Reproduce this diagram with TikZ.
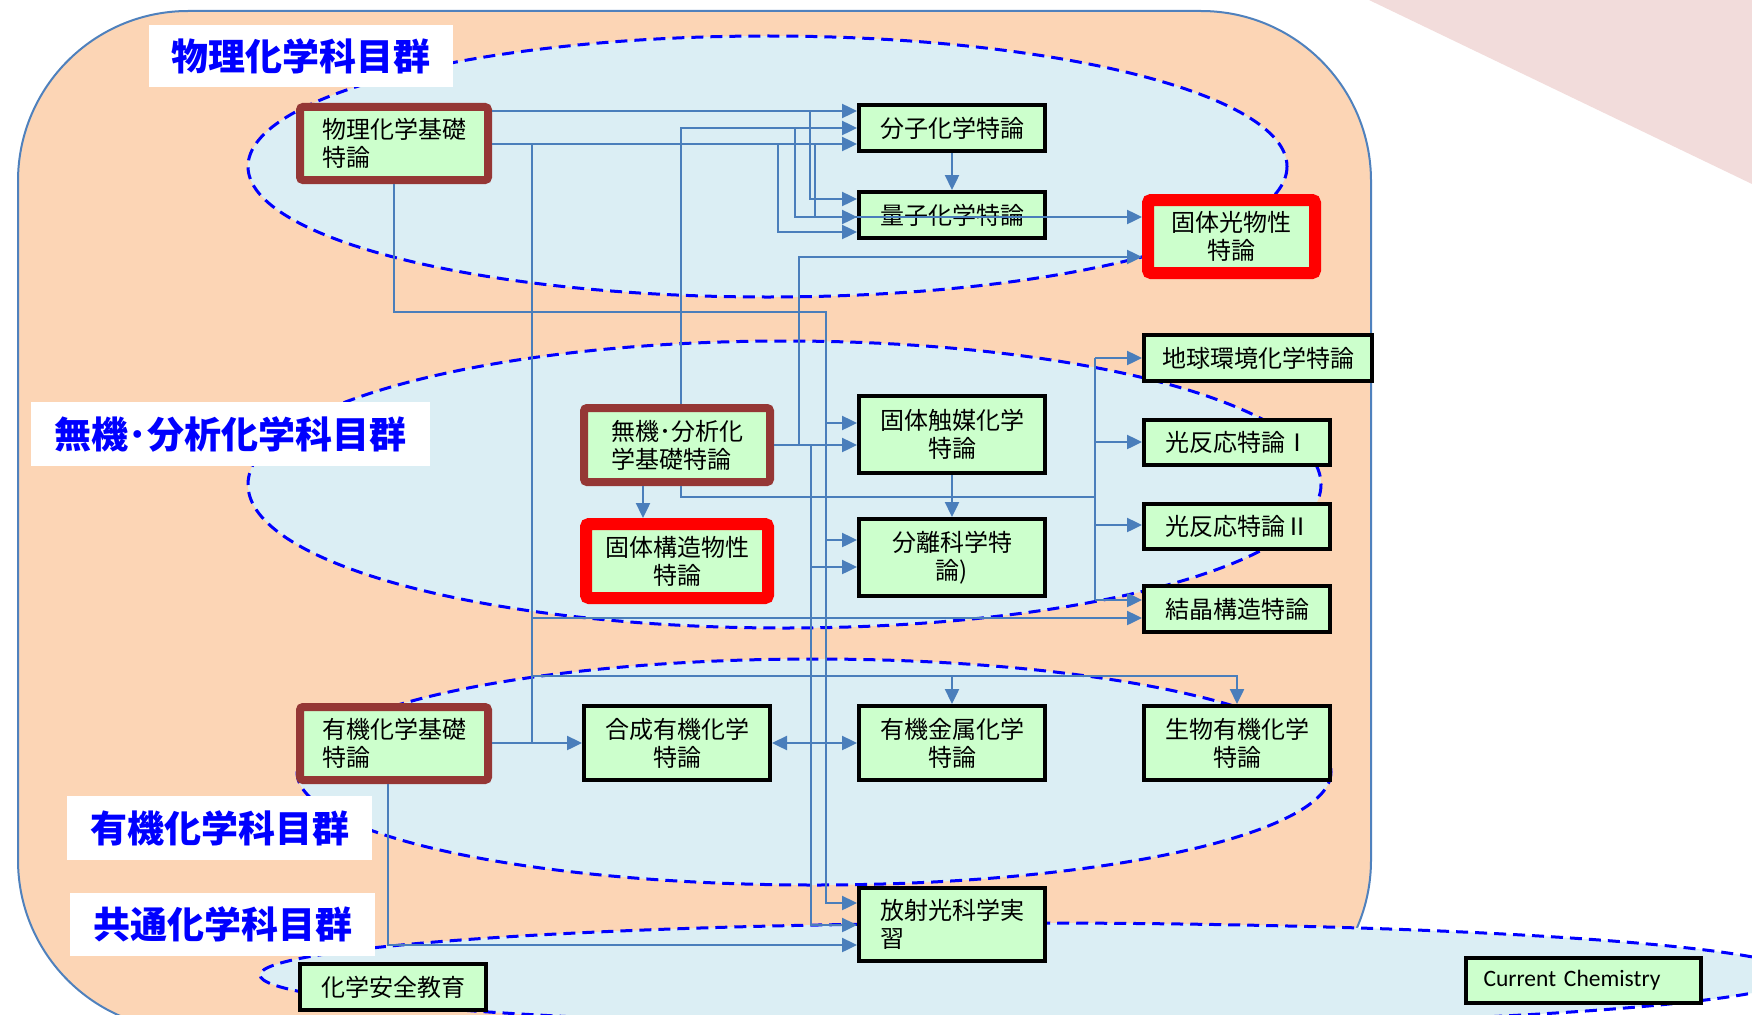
\documentclass[tikz,border=0pt]{standalone}
\usepackage{fontspec}
\newfontfamily\jp{Noto Sans CJK JP}
\newfontfamily\calfont{Carlito}
\usetikzlibrary{arrows.meta}
\definecolor{peach}{HTML}{FCD5B5}
\definecolor{iceblue}{HTML}{DBEEF4}
\definecolor{frameblue}{HTML}{4F81BD}
\definecolor{linkblue}{HTML}{4A7EBB}
\definecolor{boxgreen}{HTML}{CCFFCC}
\definecolor{brownred}{HTML}{953735}
\definecolor{pinkish}{HTML}{F2DCDB}
\definecolor{grpblue}{HTML}{0000FF}
\begin{document}
\begin{tikzpicture}[x=1pt,y=-1pt,
  course/.style={draw=black, line width=4pt, fill=boxgreen, inner sep=0pt,
    font=\jp\fontsize{24}{28}\selectfont, align=center},
  basecourse/.style={course, draw=brownred, line width=8pt, rounded corners=3pt, align=left},
  keycourse/.style={course, draw=red, line width=12pt, rounded corners=3pt},
  grplabel/.style={fill=white, inner sep=0pt, text=grpblue,
    font=\jp\bfseries\fontsize{37}{40}\selectfont},
  group/.style={fill=iceblue, draw=grpblue, line width=3pt, dash pattern=on 12pt off 7pt},
  link/.style={draw=linkblue, line width=2.4pt},
  arr/.style={link, -{Triangle[length=15pt,width=14pt]}},
  darr/.style={link, {Triangle[length=15pt,width=14pt]}-{Triangle[length=15pt,width=14pt]}},
]
\useasboundingbox (0,0) rectangle (1752,1014);
\clip (0,0) rectangle (1752,1014);
% background
\fill[pinkish] (1369,0) -- (1752,0) -- (1752,184) -- cycle;
\draw[fill=peach, draw=frameblue, line width=2pt, rounded corners=170pt] (18,11) rectangle (1371,1030);
% groups
\draw[group] (767.5,166.5) ellipse [x radius=519.5, y radius=130.5];
\draw[group] (784.5,484.5) ellipse [x radius=536.5, y radius=143.5];
\draw[group] (814,772) ellipse [x radius=517, y radius=113];
\draw[group] (1030,975) ellipse [x radius=770, y radius=52];
% group labels
\node[grplabel, minimum width=304pt, minimum height=62pt] (g1) at (301,56) {物理化学科目群};
\node[grplabel, minimum width=399pt, minimum height=64pt] (g2) at (230.5,434) {無機･分析化学科目群};
\node[grplabel, minimum width=305pt, minimum height=64pt] (g3) at (219.5,828) {有機化学科目群};
\node[grplabel, minimum width=305pt, minimum height=63pt] (g4) at (222.5,924.5) {共通化学科目群};
% courses
\node[basecourse, minimum width=188pt, minimum height=73pt] (A) at (394,143.5) {物理化学基礎\\特論};
\node[course, minimum width=186pt, minimum height=46pt] (B) at (952,128) {分子化学特論};
\node[course, minimum width=186pt, minimum height=46pt] (C) at (952,215) {量子化学特論};
\node[keycourse, minimum width=167pt, minimum height=73pt] (D) at (1231.5,236.5) {固体光物性\\特論};
\node[course, minimum width=228pt, minimum height=46pt] (E) at (1258,358) {地球環境化学特論};
\node[basecourse, minimum width=186pt, minimum height=74pt] (F) at (677,445) {無機･分析化\\学基礎特論};
\node[course, minimum width=186pt, minimum height=77pt] (G) at (952,434.5) {固体触媒化学\\特論};
\node[course, minimum width=186pt, minimum height=45pt] (H) at (1237,442.5) {光反応特論Ⅰ};
\node[keycourse, minimum width=182pt, minimum height=74pt] (I) at (677,561) {固体構造物性\\特論};
\node[course, minimum width=186pt, minimum height=77pt] (J) at (952,557.5) {分離科学特\\論)};
\node[course, minimum width=186pt, minimum height=45pt] (K) at (1237,526.5) {光反応特論Ⅱ};
\node[course, minimum width=186pt, minimum height=46pt] (L) at (1237,609) {結晶構造特論};
\node[basecourse, minimum width=188pt, minimum height=73pt] (M) at (394,743.5) {有機化学基礎\\特論};
\node[course, minimum width=186pt, minimum height=74pt] (N) at (677,743) {合成有機化学\\特論};
\node[course, minimum width=186pt, minimum height=74pt] (O) at (952,743) {有機金属化学\\特論};
\node[course, minimum width=186pt, minimum height=74pt] (P) at (1237,743) {生物有機化学\\特論};
\node[course, align=left, minimum width=186pt, minimum height=73pt] (Q) at (952,924.5) {放射光科学実\\習};
\node[course, minimum width=186pt, minimum height=46pt] (R) at (393,987) {化学安全教育};
\node[course, minimum width=235pt, minimum height=45pt, text width=200pt, align=left,
  font=\calfont\fontsize{23.5}{26}\selectfont] (S) at (1583.5,980.5) {Current Chemistry};
% connectors
\draw[arr] (A.east |- 0,111) -- (B.west |- 0,111);
\draw[arr] (810,111) |- (C.west |- 0,199);
\draw[arr] (A.east |- 0,144) -- (B.west |- 0,144);
\draw[arr] (778,144) |- (C.west |- 0,232);
\draw[arr] (F.north -| 681,0) |- (B.west |- 0,128);
\draw[arr] (795,128) |- (C.west |- 0,217);
\draw[arr] (815,144) |- (D.west |- 0,217);
\draw[arr] (B.south) -- (C.north);
\draw[arr] (A.south) |- (826,312) |- (Q.west |- 0,903);
\draw[arr] (826,423) -- (G.west |- 0,423);
\draw[arr] (826,540) -- (J.west |- 0,540);
\draw[arr] (F.east) -- (G.west |- 0,445);
\draw[arr] (799,445) |- (D.west |- 0,257);
\draw[arr] (811,445) |- (Q.west |- 0,925);
\draw[arr] (811,567) -- (J.west |- 0,567);
\draw[arr] (F.south -| 643,0) -- (I.north -| 643,0);
\draw[link] (F.south -| 681,0) |- (1095,497);
\draw[link] (1095,358) -- (1095,600);
\draw[arr] (1095,358) -- (E.west |- 0,358);
\draw[arr] (1095,442) -- (H.west |- 0,442);
\draw[arr] (1095,525) -- (K.west |- 0,525);
\draw[arr] (1095,600) -- (L.west |- 0,600);
\draw[arr] (G.south) -- (J.north);
\draw[link] (532,144) -- (532,743);
\draw[arr] (532,618) -- (L.west |- 0,618);
\draw[arr] (532,676) -| (P.north);
\draw[arr] (952,676) -- (O.north);
\draw[arr] (M.east |- 0,743) -- (N.west |- 0,743);
\draw[darr] (N.east) -- (O.west);
\draw[arr] (M.south -| 388,0) |- (Q.west |- 0,945);
\end{tikzpicture}
\end{document}
